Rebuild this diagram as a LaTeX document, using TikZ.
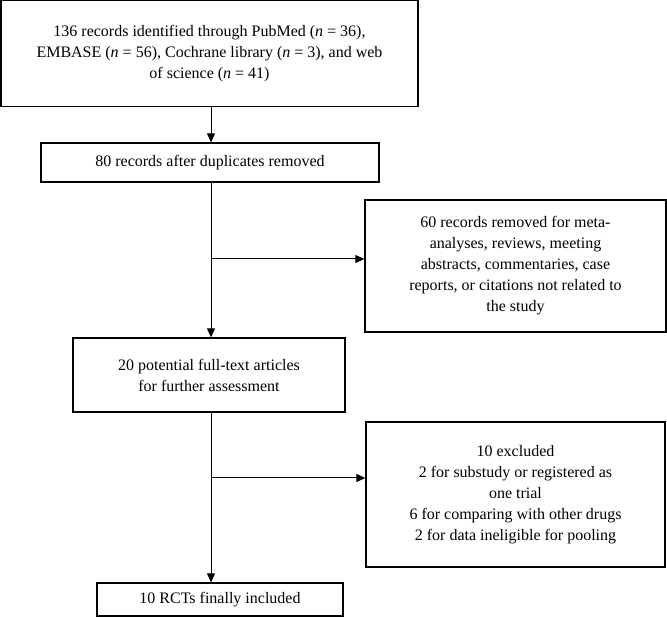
\documentclass[tikz,border=0pt]{standalone}
\usepackage{fontspec}
\setmainfont{Liberation Serif}
\usetikzlibrary{arrows.meta}

\begin{document}
\begin{tikzpicture}[
x=1pt, y=-1pt,
font=\fontsize{16}{21}\selectfont,
flowbox/.style={
draw,
line width=1.3pt,
align=center,
inner sep=0 pt,
},
flowline/.style={
line width=1pt,
},
flowarrow/.style={
flowline,
-{Triangle[length=9pt, width=8pt]},
},
]
\useasboundingbox (0,0) rectangle (667,617);

% main column
\node [flowbox, minimum width=417pt, minimum height=106pt] at (209.5,53.5) (ident)
{136 records identified through PubMed (\textit{n} = 36),\\
EMBASE (\textit{n} = 56), Cochrane library (\textit{n} = 3), and web\\
of science (\textit{n} = 41)};
\node [flowbox, minimum width=338pt, minimum height=39pt] at (210,162.5) (dedup)
{80 records after duplicates removed};
\node [flowbox, minimum width=272pt, minimum height=74pt] at (209,375) (assess)
{20 potential full-text articles\\ for further assessment};
\node [flowbox, minimum width=246pt, minimum height=33pt] at (220,599.5) (incl)
{10 RCTs finally included};

% side boxes
\node [flowbox, minimum width=301pt, minimum height=132pt] at (515.5,266) (removed)
{60 records removed for meta-\\
analyses, reviews, meeting\\
abstracts, commentaries, case\\
reports, or citations not related to\\
the study};
\node [flowbox, minimum width=299pt, minimum height=145pt] at (515.5,494.5) (excl)
{10 excluded\\
2 for substudy or registered as\\
one trial\\
6 for comparing with other drugs\\
2 for data ineligible for pooling};

\path
(211,0) coordinate(col)
(211,259) coordinate(j1)
(211,478) coordinate(j2)
;

% down the column
\draw [flowarrow] (ident.south -| col) -- (dedup.north -| col);
\draw [flowarrow] (dedup.south -| col) -- (assess.north -| col);
\draw [flowarrow] (assess.south -| col) -- (incl.north -| col);

% branches to the right
\draw [flowarrow] (j1) -- (j1 -| removed.west);
\draw [flowarrow] (j2) -- (j2 -| excl.west);

\end{tikzpicture}
\end{document}
